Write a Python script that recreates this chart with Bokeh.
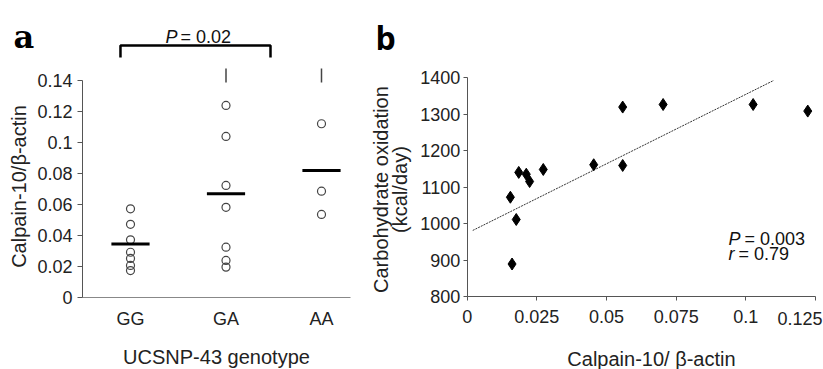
import math
from bokeh.plotting import figure
from bokeh.models import Range1d, FixedTicker, Label
from bokeh.layouts import row
from bokeh.embed import file_html
from bokeh.resources import INLINE

# ---------------- data: panel a ----------------
categories = ["GG", "GA", "AA"]
gg_vals = [0.057, 0.047, 0.037, 0.029, 0.025, 0.0205, 0.0172]
ga_vals = [0.1237, 0.1037, 0.0721, 0.058, 0.0323, 0.0237, 0.0194]
aa_vals = [0.1119, 0.0684, 0.0534]
group_means = [0.0344, 0.0667, 0.0817]
offscale_groups = ["GA", "AA"]
offscale_vals = [0.143, 0.143]
a_y_ticks = [0, 0.02, 0.04, 0.06, 0.08, 0.1, 0.12, 0.14]
a_y_labels = ["0", "0.02", "0.04", "0.06", "0.08", "0.1", "0.12", "0.14"]
a_p_text = "= 0.02"

# ---------------- data: panel b ----------------
calpain = [0.0155, 0.0161, 0.0176, 0.0185, 0.0212, 0.0224, 0.0273,
           0.0454, 0.0558, 0.0558, 0.0703, 0.1026, 0.1222]
carb_ox = [1072, 889, 1011, 1140, 1135, 1115, 1148,
           1161, 1159, 1319, 1326, 1326, 1308]
fit_x = [0.002, 0.110]
fit_y = [981, 1392]
b_x_ticks = [0, 0.025, 0.05, 0.075, 0.1, 0.125]
b_x_labels = ["0", "0.025", "0.05", "0.075", "0.1", "0.125"]
b_y_ticks = [800, 900, 1000, 1100, 1200, 1300, 1400]
b_p_text = "= 0.003"
b_r_text = "= 0.79"

FONT = "Liberation Sans"
AX = "#555555"
TXT = "#222222"

def style_axes(p):
    p.grid.visible = False
    p.outline_line_color = None
    for ax in p.axis:
        ax.axis_line_color = AX
        ax.axis_line_width = 1
        ax.major_tick_line_color = AX
        ax.minor_tick_line_color = None
        ax.major_tick_in = 0
        ax.major_label_text_font = FONT
        ax.major_label_text_font_size = "18px"
        ax.major_label_text_color = TXT

def lab(p, x, y, text, size="20px", font=FONT, style="normal", align="left",
        baseline="alphabetic", angle=0, x_offset=0, color=TXT):
    p.add_layout(Label(x=x, y=y, text=text, text_font=font, text_font_size=size,
                       text_font_style=style, text_align=align, text_baseline=baseline,
                       angle=angle, x_offset=x_offset, text_color=color))

# ================= panel a =================
# frame fills the whole canvas; axes sit at fixed locations inside it
pos = {c: i + 1 for i, c in enumerate(categories)}
pa = figure(width=360, height=369, output_backend="svg", toolbar_location=None,
            x_range=Range1d(-0.3613, 3.4084), y_range=Range1d(-0.04665, 0.19142),
            min_border=0)
style_axes(pa)
pa.yaxis.fixed_location = 0.4974
pa.xaxis.fixed_location = 0

for cat, vals in zip(categories, [gg_vals, ga_vals, aa_vals]):
    pa.scatter([pos[cat]] * len(vals), vals, marker="circle", size=8,
               fill_color=None, line_color="#444444", line_width=1.2)

pa.segment(x0=[pos[c] - 0.2 for c in categories], x1=[pos[c] + 0.2 for c in categories],
           y0=group_means, y1=group_means, line_color="black", line_width=3)

pa.scatter([pos[c] for c in offscale_groups], offscale_vals, marker="dash",
           angle=math.pi / 2, size=14, line_color="#444444", line_width=1.5)

pa.xaxis.ticker = FixedTicker(ticks=[pos[c] for c in categories])
pa.xaxis.major_label_overrides = {pos[c]: c for c in categories}
pa.xaxis.major_tick_out = 0
pa.xaxis.major_label_standoff = 12
pa.xaxis.axis_line_color = "#888888"
pa.xaxis.bounds = (0.4974, 3.303)
pa.yaxis.ticker = FixedTicker(ticks=a_y_ticks)
pa.yaxis.major_label_overrides = dict(zip(a_y_ticks, a_y_labels))
pa.yaxis.bounds = (0, 0.14)
pa.yaxis.major_tick_out = 5
pa.yaxis.major_label_standoff = 5

# significance bracket GG vs GA
pa.line([0.895, 0.895, 2.466, 2.466], [0.1546, 0.1624, 0.1624, 0.1546],
        line_color="black", line_width=2.5)
lab(pa, 1.3665, 0.16755, "P", size="18px", style="italic", color="#111111")
lab(pa, 1.3665, 0.16755, a_p_text, size="18px", x_offset=15, color="#111111")
lab(pa, -0.2251, 0.16755, "a", size="32px", font="DejaVu Serif", style="bold", color="black")
lab(pa, 1.9005, -0.0389, "UCSNP-43 genotype", align="center")
lab(pa, -0.1728, 0.0714, "Calpain-10/β-actin", align="center", baseline="middle",
    angle=math.pi / 2)

# ================= panel b =================
pb = figure(width=463, height=369, output_backend="svg", toolbar_location=None,
            x_range=Range1d(-0.03828, 0.12785), y_range=Range1d(600, 1610.96),
            min_border=0)
style_axes(pb)
pb.yaxis.fixed_location = 0
pb.xaxis.fixed_location = 800

pb.line(fit_x, fit_y, line_color="#333333", line_width=1, line_dash="2 1")
pb.scatter(calpain, carb_ox, marker="diamond", size=12, fill_color="black",
           line_color="black")

pb.xaxis.ticker = FixedTicker(ticks=b_x_ticks)
labels_b = dict(zip(b_x_ticks, b_x_labels))
labels_b[0.125] = ""
pb.xaxis.major_label_overrides = labels_b
pb.xaxis.bounds = (0, 0.125)
pb.xaxis.major_tick_out = 4
pb.xaxis.major_label_standoff = 9
pb.yaxis.ticker = FixedTicker(ticks=b_y_ticks)
pb.yaxis.bounds = (800, 1400)
pb.yaxis.major_tick_out = 4
pb.yaxis.major_label_standoff = 3

# last tick label kept inside the canvas, as in the reference
lab(pb, 0.12749, 739.7, b_x_labels[-1], size="18px", align="right", baseline="middle")
lab(pb, -0.0311, 1093, "Carbohydrate oxidation", align="center", baseline="middle",
    angle=math.pi / 2)
lab(pb, -0.02393, 1093, "(kcal/day)", align="center", baseline="middle",
    angle=math.pi / 2)
lab(pb, 0.06613, 630.1, "Calpain-10/ β-actin", align="center")
lab(pb, -0.0329, 1509.6, "b", size="32px", font="Open Sans", style="bold", color="black")
lab(pb, 0.09376, 958.9, "P", size="18px", style="italic", color="#111111")
lab(pb, 0.09376, 958.9, b_p_text, size="18px", x_offset=16, color="#111111")
lab(pb, 0.09376, 917.8, "r", size="18px", style="italic", color="#111111")
lab(pb, 0.09376, 917.8, b_r_text, size="18px", x_offset=10, color="#111111")

layout = row(pa, pb)
open("out.html", "w").write(file_html(layout, INLINE))
